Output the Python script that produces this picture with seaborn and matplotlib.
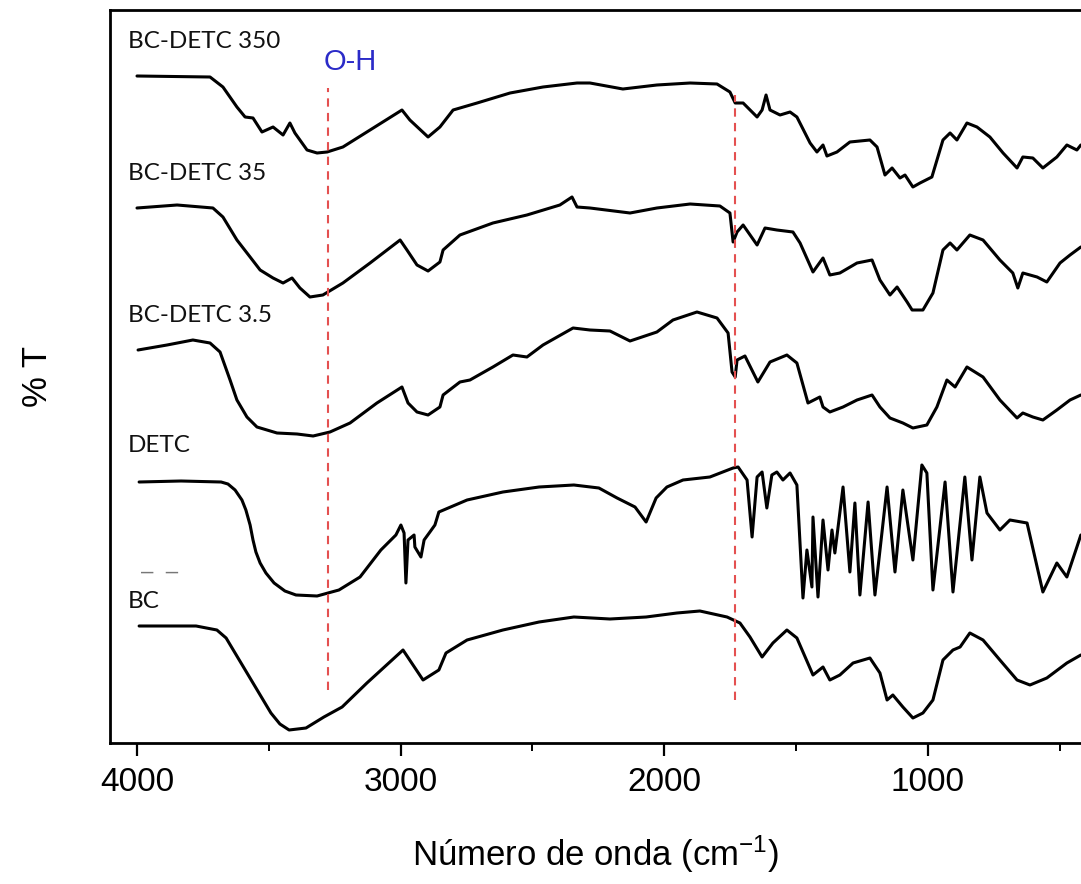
import numpy as np
import pandas as pd
import matplotlib
matplotlib.use("Agg")
import matplotlib.pyplot as plt
import seaborn as sns
from matplotlib.ticker import MultipleLocator

# ---------------- data (wavenumber in cm-1, stacked %T in arbitrary offset units) ----------------
wn_350 = [4000, 3723, 3674, 3621, 3590, 3560, 3526, 3484, 3446, 3420,
          3401, 3355, 3317, 3279, 3219, 3116, 2995, 2965, 2896, 2851,
          2801, 2710, 2585, 2460, 2331, 2282, 2157, 2028, 1902, 1800,
          1751, 1731, 1701, 1648, 1629, 1614, 1599, 1561, 1523, 1497,
          1447, 1421, 1398, 1383, 1345, 1296, 1220, 1193, 1163, 1136,
          1106, 1087, 1057, 1030, 985, 943, 916, 890, 852, 814,
          765, 715, 662, 640, 602, 564, 511, 473, 435, 420]
t_350 = [668, 667, 657, 637, 627, 626, 612, 617, 609, 621,
         611, 594, 591, 592, 597, 614, 634, 624, 607, 617,
         634, 641, 651, 657, 661, 661, 655, 659, 661, 660,
         652, 641, 641, 627, 634, 649, 634, 629, 632, 627,
         601, 592, 599, 588, 592, 602, 604, 597, 569, 576,
         566, 569, 557, 561, 567, 604, 611, 604, 621, 617,
         607, 591, 576, 587, 586, 576, 587, 599, 594, 599]

wn_35 = [4000, 3848, 3712, 3674, 3621, 3571, 3533, 3484, 3446, 3412,
         3382, 3344, 3295, 3219, 3116, 3002, 2976, 2938, 2896, 2851,
         2839, 2775, 2650, 2521, 2396, 2350, 2331, 2282,
         2130, 2028, 1902, 1789, 1751, 1739, 1724, 1701, 1648, 1618,
         1573, 1512, 1485, 1436, 1398, 1372, 1334, 1269, 1212, 1182,
         1144, 1117, 1079, 1060, 1019, 981, 943, 916, 890, 841,
         791, 727, 678, 659, 640, 586, 549, 499, 461, 420]
t_35 = [536, 539, 536, 527, 504, 487, 474, 466, 461, 466,
        456, 447, 449, 461, 481, 504, 494, 479, 473, 482,
        494, 509, 521, 529, 539, 547, 537, 536,
        531, 536, 540, 538, 531, 502, 512, 519, 499, 516,
        514, 512, 501, 472, 486, 469, 471, 481, 484, 464,
        449, 457, 442, 434, 434, 451, 494, 501, 494, 509,
        504, 484, 471, 456, 471, 467, 462, 481, 489, 497]

wn_3_5 = [3996, 3886, 3788, 3723, 3685, 3647, 3621, 3583, 3545, 3469,
          3393, 3332, 3268, 3192, 3090, 2995, 2972, 2938, 2896, 2851,
          2839, 2775, 2737, 2650, 2574, 2521, 2460, 2346, 2282,
          2206, 2130, 2028, 1967, 1876, 1800, 1758, 1743, 1731, 1724,
          1694, 1645, 1599, 1535, 1497, 1455, 1410, 1398, 1372, 1322,
          1269, 1212, 1182, 1144, 1095, 1057, 1004, 966, 928, 897,
          852, 791, 727, 662, 640, 602, 564, 511, 461, 420]
t_3_5 = [394, 399, 404, 401, 392, 364, 344, 327, 317, 311,
         310, 308, 312, 321, 341, 357, 341, 332, 329, 337,
         349, 362, 364, 377, 389, 387, 399, 416, 414,
         413, 403, 412, 424, 432, 426, 411, 372, 367, 384,
         388, 362, 382, 389, 381, 341, 347, 337, 332, 337,
         344, 349, 337, 326, 321, 316, 319, 337, 364, 357,
         377, 367, 344, 326, 331, 327, 324, 334, 344, 349]

wn_detc = [3992, 3833, 3681, 3655, 3628, 3602, 3587, 3571, 3560, 3549,
           3533, 3511, 3480, 3439, 3397, 3317,
           3234, 3154, 3075, 3018, 2999, 2987, 2980, 2972, 2949, 2946,
           2923, 2911, 2889, 2870, 2855, 2748, 2612, 2475, 2343, 2248,
           2179, 2111, 2069, 2031,
           1990, 1929, 1827, 1739, 1720, 1686, 1667, 1648, 1629, 1611,
           1592, 1573, 1550, 1523, 1497, 1474, 1459, 1440, 1436, 1417,
           1398, 1379, 1364, 1353, 1322, 1296, 1277, 1258, 1227, 1201,
           1155, 1125, 1095, 1057, 1023, 1004, 981, 935, 905, 860,
           833, 803, 776, 727, 689, 624, 564, 511, 473, 435,
           420]
t_detc = [262, 263, 262, 260, 254, 244, 234, 219, 204, 192,
          181, 171, 161, 153, 149, 148,
          154, 167, 194, 209, 219, 211, 161, 204, 209, 197,
          187, 204, 212, 219, 232, 244, 252, 257, 259, 256,
          246, 237, 222, 246,
          257, 264, 267, 276, 277, 264, 207, 267, 272, 236,
          269, 272, 264, 271, 259, 146, 194, 157, 227, 147,
          224, 174, 214, 191, 257, 172, 241, 149, 242, 149,
          257, 172, 254, 184, 279, 271, 154, 262, 152, 267,
          184, 267, 231, 214, 224, 221, 152, 181, 167, 197,
          209]

wn_bc = [3992, 3776, 3697, 3662, 3628, 3594, 3560, 3526, 3492, 3458,
         3423, 3359, 3291, 3222,
         3128, 2991, 2915, 2855, 2828, 2748, 2612, 2475, 2343, 2206,
         2069,
         1952, 1865, 1762, 1713, 1675, 1629, 1588, 1535, 1497, 1436,
         1398, 1372, 1334, 1284, 1220, 1182, 1155, 1133, 1095, 1057,
         1019, 981, 943, 905, 878, 841, 791, 727, 662, 613,
         549, 473, 420]
t_bc = [118, 118, 114, 106, 91, 76, 61, 46, 31, 20,
        14, 16, 27, 37,
        61, 94, 64, 74, 91, 104, 114, 122, 127, 125,
        127,
        131, 133, 127, 121, 107, 87, 101, 114, 106, 69,
        77, 64, 69, 81, 86, 71, 44, 49, 37, 26,
        31, 44, 84, 94, 97, 111, 104, 84, 64, 59,
        66, 81, 89]

series_names = ["BC-DETC 350", "BC-DETC 35", "BC-DETC 3.5", "DETC", "BC"]
series_wn = [wn_350, wn_35, wn_3_5, wn_detc, wn_bc]
series_t = [t_350, t_35, t_3_5, t_detc, t_bc]
label_y = [703, 571, 429, 298, 143]

# marker lines (cm-1) and their vertical extent
band_wn = [3276, 1731]
band_lo = [54, 44]
band_hi = [656, 649]
band_text = "O-H"

x_ticks_major = [4000, 3000, 2000, 1000]

# ---------------- figure ----------------
sns.set_theme(style="white")
plt.rcParams["font.family"] = ["Liberation Sans", "DejaVu Sans"]
plt.rcParams["mathtext.fontset"] = "custom"
plt.rcParams["mathtext.rm"] = "Liberation Sans"
plt.rcParams["mathtext.it"] = "Liberation Sans:italic"
plt.rcParams["text.color"] = "black"
plt.rcParams["axes.labelcolor"] = "black"
plt.rcParams["xtick.color"] = "black"
plt.rcParams["ytick.color"] = "black"

fig = plt.figure(figsize=(10.81, 8.84), dpi=100)
ax = fig.add_axes([110 / 1081, (884 - 743) / 884, 971 / 1081, 733 / 884])

for name, w, t in zip(series_names, series_wn, series_t):
    df = pd.DataFrame({"wn": w, "T": t})
    sns.lineplot(data=df, x="wn", y="T", ax=ax, sort=False, estimator=None,
                 color="black", linewidth=2.2)

for w, lo, hi in zip(band_wn, band_lo, band_hi):
    ax.plot([w, w], [lo, hi], color="#e45050", linewidth=1.5,
            linestyle=(0, (4, 3)))

ax.text(band_wn[0] - 85, 682, band_text, color="#2b2bc8", fontsize=21,
        ha="center", va="center", family=["Liberation Sans"])

for name, ly in zip(series_names, label_y):
    ax.text(4036, ly, name, fontsize=17.5, ha="left", va="center",
            family=["Lato", "DejaVu Sans"], color="#111111")

ax.text(3985, 171, "\u2013  \u2013", fontsize=16, ha="left", va="center",
        color="#777777")

ax.set_xlim(4102.4, 419.4)
ax.set_ylim(1, 734)
ax.set_xticks(x_ticks_major)
ax.xaxis.set_minor_locator(MultipleLocator(500))
ax.set_yticks([])
ax.tick_params(axis="x", which="major", direction="out", length=9, width=1.6,
               labelsize=24, pad=8, color="black", labelcolor="black", bottom=True)
ax.tick_params(axis="x", which="minor", direction="out", length=6, width=1.4,
               color="black", bottom=True)

for side in ["left", "top", "bottom"]:
    ax.spines[side].set_color("black")
    ax.spines[side].set_linewidth(2)
ax.spines["right"].set_visible(False)

ax.set_xlabel("Número de onda (cm$^{-1}$)", fontsize=25, labelpad=26, color="black")
ax.set_ylabel("% T", fontsize=25, labelpad=40, color="black")

fig.savefig("out.png", dpi=100)
